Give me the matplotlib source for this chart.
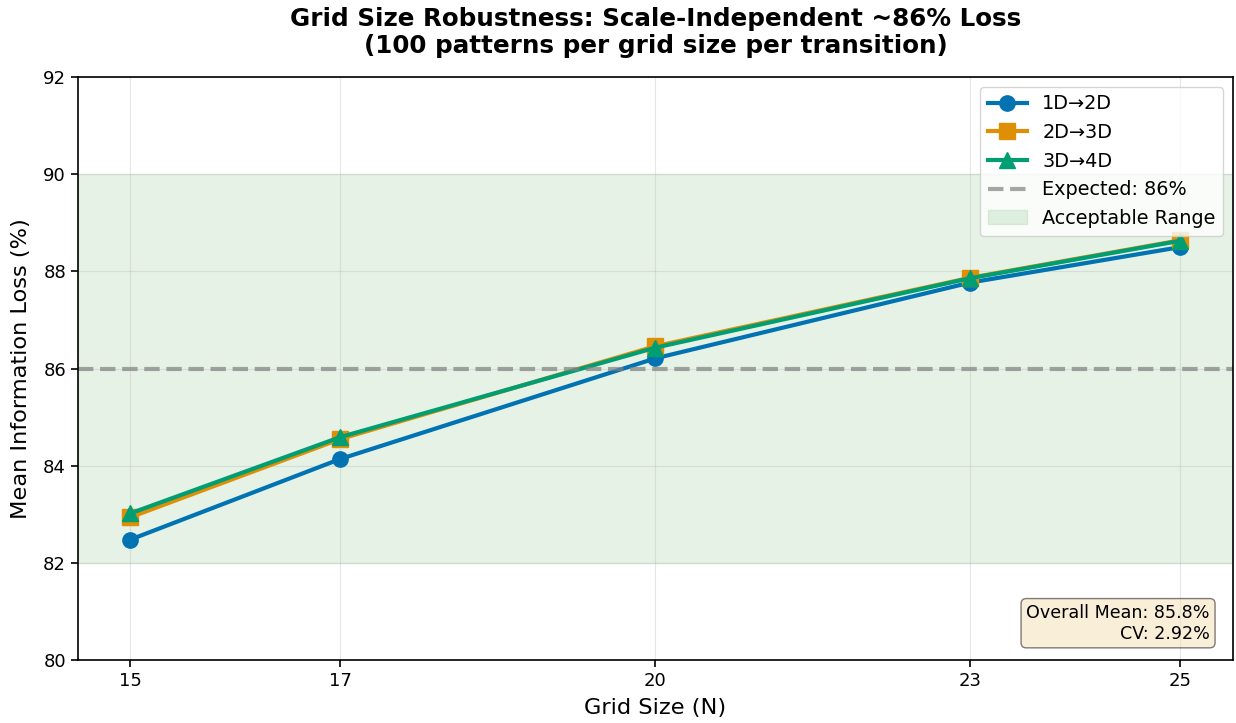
import numpy as np
import matplotlib.pyplot as plt

plt.rcParams['font.family'] = ['DejaVu Sans']

# Grid sizes and mean information loss per transition (%)
grid_sizes = [15, 17, 20, 23, 25]
loss_1d_2d = [82.48, 84.14, 86.21, 87.77, 88.50]
loss_2d_3d = [82.94, 84.55, 86.46, 87.87, 88.64]
loss_3d_4d = [83.02, 84.59, 86.43, 87.86, 88.63]
expected = 86
acceptable = (82, 90)
overall_mean = 85.8
cv = 2.92

colors = ['#0173b2', '#de8f05', '#029e73']

fig = plt.figure(figsize=(12.36, 7.23), dpi=100)
ax = fig.add_axes([0.063, 0.087, 0.9345, 0.8065])

ax.plot(grid_sizes, loss_1d_2d, '-o', color=colors[0], lw=3, ms=11, label='1D→2D')
ax.plot(grid_sizes, loss_2d_3d, '-s', color=colors[1], lw=3, ms=11, label='2D→3D')
ax.plot(grid_sizes, loss_3d_4d, '-^', color=colors[2], lw=3, ms=11, label='3D→4D')
ax.axhline(expected, color='gray', ls='--', lw=3, alpha=0.7, label='Expected: 86%')
ax.axhspan(acceptable[0], acceptable[1], color='green', alpha=0.1, label='Acceptable Range')

ax.set_xlabel('Grid Size (N)', fontsize=16.2, labelpad=6)
ax.set_ylabel('Mean Information Loss (%)', fontsize=16.2, labelpad=9)
ax.set_title('Grid Size Robustness: Scale-Independent ~86% Loss\n(100 patterns per grid size per transition)',
             fontsize=17.7, fontweight='bold', pad=17)
ax.set_xticks(grid_sizes)
ax.set_ylim(80, 92)
ax.tick_params(labelsize=13, length=5, width=1.2)
for s in ax.spines.values():
    s.set_linewidth(1.2)
ax.grid(True, alpha=0.3)
ax.legend(loc='upper right', fontsize=13.9)

ax.text(0.98, 0.03, f'Overall Mean: {overall_mean}%\nCV: {cv:.2f}%', transform=ax.transAxes,
        ha='right', va='bottom', fontsize=12.6,
        bbox=dict(boxstyle='round', facecolor='wheat', alpha=0.5))

fig.savefig('out.png', dpi=100)
